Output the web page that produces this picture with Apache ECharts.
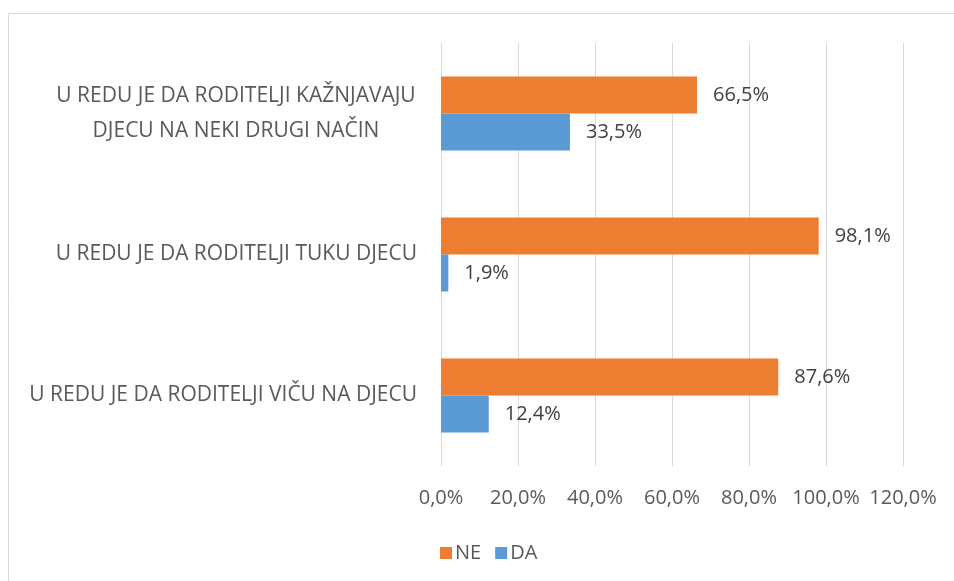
<!DOCTYPE html>
<html><head><meta charset="utf-8">
<script src="https://cdn.jsdelivr.net/npm/echarts@6/dist/echarts.min.js"></script>
<style>html,body{margin:0;padding:0;background:#fff}#c{width:954px;height:581px}</style>
</head><body><div id="c"></div>
<script>
var categories = ['U REDU JE DA RODITELJI VIČU NA DJECU', 'U REDU JE DA RODITELJI TUKU DJECU', 'U REDU JE DA RODITELJI KAŽNJAVAJU\nDJECU NA NEKI DRUGI NAČIN'];
var seriesNames = ['NE', 'DA'];
var neValues = [87.6, 98.1, 66.5];
var daValues = [12.4, 1.9, 33.5];
var xTicks = [0, 20, 40, 60, 80, 100, 120];

var FONT = 'Open Sans';
var chart = echarts.init(document.getElementById('c'));
function pct(v){ return v.toFixed(1).replace('.', ',') + '%'; }
chart.setOption({
  animation: false,
  textStyle: { fontFamily: FONT },
  graphic: [{ type: 'rect', shape: { x: 8.5, y: 13.5, width: 1200, height: 1200 }, style: { fill: 'none', stroke: '#d9d9d9', lineWidth: 1 }, silent: true }],
  grid: { left: 441, right: 51, top: 43, bottom: 115, containLabel: false },
  legend: {
    data: seriesNames, bottom: 13, left: 435, itemWidth: 12, itemHeight: 12, itemGap: 14,
    icon: 'rect', textStyle: { color: '#595959', fontSize: 20, fontFamily: FONT, padding: [0, 0, 0, -2] }
  },
  xAxis: {
    type: 'value', min: xTicks[0], max: xTicks[xTicks.length - 1], interval: xTicks[1] - xTicks[0],
    axisLine: { show: false }, axisTick: { show: false },
    splitLine: { lineStyle: { color: '#d9d9d9', width: 1 } },
    axisLabel: { color: '#595959', fontSize: 20, margin: 22, formatter: function(v){ return pct(v); } }
  },
  yAxis: {
    type: 'category', data: categories, inverse: false,
    axisLine: { show: false }, axisTick: { show: false },
    axisLabel: {
      color: '#595959', fontSize: 21, margin: 24, align: 'right',
      formatter: function(v){
        if (v.indexOf('\n') >= 0) { return v.split('\n').map(function(s){ return '{a|' + s + '}'; }).join('\n'); }
        return v;
      },
      rich: { a: { width: 362, align: 'center', fontSize: 21, color: '#595959', lineHeight: 35, fontFamily: FONT } }
    }
  },
  series: [
    { name: seriesNames[0], type: 'bar', data: neValues, barWidth: 37, barGap: '0%',
      itemStyle: { color: '#ED7D31' },
      label: { show: true, position: 'right', distance: 16, color: '#404040', fontSize: 20, formatter: function(p){ return pct(p.value); } } },
    { name: seriesNames[1], type: 'bar', data: daValues, barWidth: 37, barGap: '0%',
      itemStyle: { color: '#5B9BD5' },
      label: { show: true, position: 'right', distance: 16, color: '#404040', fontSize: 20, formatter: function(p){ return pct(p.value); } } }
  ]
});
</script></body></html>
